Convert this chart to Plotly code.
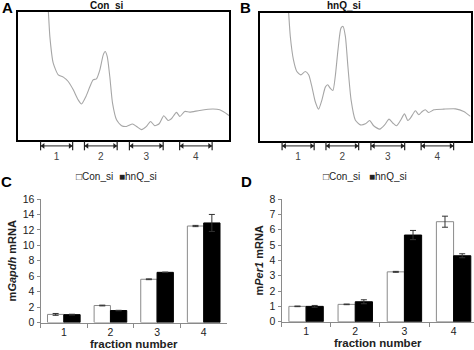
import plotly.graph_objects as go

W, H = 474, 350

# ---------------- data ----------------
# Sedimentation profiles (position along gradient 0-100, absorbance arbitrary 0-100)
prof_a_x = [14.2, 14.4, 15.1, 16.7, 19.1, 21.5, 23.8, 26.2, 28.5, 30.1, 32.2, 34.1, 35.6, 37.2, 38.8,
            40.4, 41.3, 42.3, 43.5, 44.8, 46.7, 49.1, 51.4, 54.3, 56.2, 58.5, 60.9, 62.8, 64.8,
            66.9, 69.1, 71.1, 72.7, 75.1, 76.7, 79.0, 81.4, 86.1, 92.4, 95.6, 99.5, 100]
prof_a_y = [104, 100, 80.8, 60.0, 50.9, 49.1, 45.7, 39.2, 31.4, 28.1, 34.0, 41.8, 47.0, 47.8, 54.8,
            66.5, 69.1, 65.2, 49.6, 28.8, 15.8, 11.2, 10.6, 12.5, 10.6, 8.1, 10.6, 14.5, 11.2,
            12.7, 19.0, 15.3, 16.6, 21.6, 18.4, 22.3, 21.8, 23.1, 24.2, 23.6, 19.7, 19.0]

prof_b_x = [13.6, 13.8, 14.6, 16.1, 17.7, 19.6, 21.7, 23.3, 24.8, 26.4, 28.0, 29.6, 31.2, 32.3, 33.5,
            34.8, 35.9, 37.2, 38.6, 39.6, 40.7, 41.9, 43.4, 45.4, 47.8, 50.2, 52.2, 54.1, 57.0,
            59.3, 61.4, 63.3, 64.9, 66.8, 68.7, 70.3, 71.5, 73.9, 75.5, 77.1, 78.6, 80.2, 82.6,
            87.3, 92.9, 96.8, 100]
prof_b_y = [104, 100, 81.3, 63.0, 53.9, 51.3, 53.9, 51.3, 42.2, 30.5, 24.5, 31.8, 41.7, 43.5, 40.9,
            39.1, 50.0, 70.8, 87.8, 89.1, 81.3, 57.8, 31.8, 16.1, 12.2, 13.0, 15.6, 11.5, 8.9,
            12.2, 16.7, 13.5, 11.5, 15.6, 20.8, 15.6, 17.4, 23.2, 20.1, 22.7, 24.0, 21.9, 24.0,
            24.5, 24.7, 22.7, 18.8]

# Collected fractions (start / end along the gradient)
frac_labels = ["1", "2", "3", "4"]
frac_start = [10.7, 31.5, 52.8, 76.6]
frac_end = [25.9, 47.0, 68.8, 92.0]

# qPCR per fraction
categories = ["1", "2", "3", "4"]
gapdh_con = [1.05, 2.2, 5.6, 12.5]
gapdh_con_err = [0.12, 0.05, 0.05, 0.08]
gapdh_hnq = [1.02, 1.55, 6.5, 12.9]
gapdh_hnq_err = [0.05, 0.03, 0.03, 1.1]

per1_con = [1.0, 1.13, 3.25, 6.52]
per1_con_err = [0.02, 0.02, 0.03, 0.36]
per1_hnq = [1.0, 1.3, 5.65, 4.3]
per1_hnq_err = [0.06, 0.13, 0.3, 0.13]

series_names = ["Con_si", "hnQ_si"]

# ---------------- helpers ----------------
def px(x):
    return x / W

def py(y):
    return 1 - y / H

FONT = "Liberation Sans, Arial, sans-serif"
CURVE = "#a6a6a6"
AXGREY = "#8a8a8a"

fig = go.Figure()

# profiles
for xa, ya, xs, ys in [("x", "y", prof_a_x, prof_a_y), ("x2", "y2", prof_b_x, prof_b_y)]:
    fig.add_trace(go.Scatter(x=xs, y=ys, mode="lines", xaxis=xa, yaxis=ya,
                             line=dict(color=CURVE, width=1.1, shape="spline", smoothing=0.6),
                             showlegend=False, hoverinfo="skip"))

# fraction markers under the profiles
for xa, ya in [("x", "y5"), ("x2", "y6")]:
    lx, lyy = [], []
    bx, byy = [], []
    for s, e in zip(frac_start, frac_end):
        lx += [s, e, None]
        lyy += [0.64, 0.64, None]
        bx += [s, s, None, e, e, None]
        byy += [0.84, 0.44, None, 0.84, 0.44, None]
    fig.add_trace(go.Scatter(x=lx, y=lyy, mode="lines", xaxis=xa, yaxis=ya,
                             line=dict(color="#222", width=1), showlegend=False, hoverinfo="skip"))
    fig.add_trace(go.Scatter(x=bx, y=byy, mode="lines", xaxis=xa, yaxis=ya,
                             line=dict(color="#222", width=1.2), showlegend=False, hoverinfo="skip"))
    fig.add_trace(go.Scatter(x=[s + 1.2 for s in frac_start], y=[0.64] * 4, mode="markers",
                             xaxis=xa, yaxis=ya, cliponaxis=False,
                             marker=dict(symbol="triangle-left", size=5, color="#222"),
                             showlegend=False, hoverinfo="skip"))
    fig.add_trace(go.Scatter(x=[e - 1.2 for e in frac_end], y=[0.64] * 4, mode="markers",
                             xaxis=xa, yaxis=ya, cliponaxis=False,
                             marker=dict(symbol="triangle-right", size=5, color="#222"),
                             showlegend=False, hoverinfo="skip"))
    fig.add_trace(go.Scatter(x=[(s + e) / 2 for s, e in zip(frac_start, frac_end)], y=[0.12] * 4,
                             mode="text", text=frac_labels, xaxis=xa, yaxis=ya, cliponaxis=False,
                             textfont=dict(family=FONT, size=10, color="#444"),
                             showlegend=False, hoverinfo="skip"))

# bars
for xa, ya, con, cerr, hnq, herr in [("x3", "y3", gapdh_con, gapdh_con_err, gapdh_hnq, gapdh_hnq_err),
                                    ("x4", "y4", per1_con, per1_con_err, per1_hnq, per1_hnq_err)]:
    fig.add_trace(go.Bar(x=categories, y=con, name=series_names[0], xaxis=xa, yaxis=ya,
                         marker=dict(color="white", line=dict(color="#8a8a8a", width=1)),
                         error_y=dict(type="data", array=cerr, color="#333", thickness=1, width=3),
                         showlegend=False))
    fig.add_trace(go.Bar(x=categories, y=hnq, name=series_names[1], xaxis=xa, yaxis=ya,
                         marker=dict(color="black", line=dict(color="black", width=1)),
                         error_y=dict(type="data", array=herr, color="#333", thickness=1, width=3),
                         showlegend=False))

box_axis = dict(showline=True, mirror=True, linecolor="black", linewidth=1.5,
                showticklabels=False, ticks="", showgrid=False, zeroline=False, fixedrange=True,
                automargin=False)

def bar_x(domain, rng):
    return dict(domain=domain, type="category", range=rng, showline=True, linecolor=AXGREY,
                linewidth=1, ticks="outside", tickson="boundaries", ticklen=4, tickcolor=AXGREY,
                showgrid=False, zeroline=False, automargin=False,
                tickfont=dict(family=FONT, size=10.5, color="#222"),
                title=dict(text="<b>fraction number</b>", font=dict(family=FONT, size=11.5, color="#222"),
                           standoff=2))

def bar_y(domain, rng, dtick, title):
    return dict(domain=domain, range=rng, dtick=dtick, showline=True, linecolor=AXGREY,
                linewidth=1, ticks="outside", ticklen=3, tickcolor=AXGREY, showgrid=False,
                zeroline=False, automargin=False, tickfont=dict(family=FONT, size=10.5, color="#222"),
                title=dict(text=title, font=dict(family=FONT, size=11, color="#222"), standoff=3))

fig.update_layout(
    width=W, height=H, margin=dict(l=0, r=0, t=0, b=0),
    paper_bgcolor="white", plot_bgcolor="rgba(0,0,0,0)",
    barmode="group", bargap=0.3, bargroupgap=0.0,
    showlegend=False,
    xaxis=dict(domain=[px(18), px(229)], range=[0, 100], anchor="y", **box_axis),
    yaxis=dict(domain=[py(140), py(12)], range=[0, 100], anchor="x", **box_axis),
    xaxis2=dict(domain=[px(259.5), px(470.5)], range=[0, 100], anchor="y2", **box_axis),
    yaxis2=dict(domain=[py(140.5), py(12.5)], range=[0, 100], anchor="x2", **box_axis),
    yaxis5=dict(domain=[py(160), py(138)], range=[0, 1], anchor="x", visible=False, fixedrange=True),
    yaxis6=dict(domain=[py(160), py(138)], range=[0, 1], anchor="x2", visible=False, fixedrange=True),
    xaxis3=dict(anchor="y3", **bar_x([px(40.5), px(227)], [-0.5, 3.5])),
    yaxis3=dict(anchor="x3", **bar_y([py(322.5), py(199)], [0, 16], 2, "<b>m<i>Gapdh</i> mRNA</b>")),
    xaxis4=dict(anchor="y4", **bar_x([px(281.5), 1.0], [-0.5, 3.415])),
    yaxis4=dict(anchor="x4", **bar_y([py(321.7), py(199)], [0, 8], 1, "<b>m<i>Per1</i> mRNA</b>")),
)

ann = []
for txt, x, y in [("A", 7, 7), ("B", 245, 7), ("C", 6, 181), ("D", 246, 181)]:
    ann.append(dict(text=f"<b>{txt}</b>", x=px(x), y=py(y), xref="paper", yref="paper",
                    showarrow=False, xanchor="center", yanchor="middle",
                    font=dict(family=FONT, size=15, color="black")))
for txt, x in [("Con_si", 107), ("hnQ_si", 344)]:
    ann.append(dict(text=f"<b>{txt}</b>", x=px(x), y=py(5.5), xref="paper", yref="paper",
                    showarrow=False, xanchor="center", yanchor="middle",
                    font=dict(family=FONT, size=10, color="#111")))
for txt, x in [("\u25a1Con_si", 74), ("\u25a0hnQ_si", 117), ("\u25a1Con_si", 321), ("\u25a0hnQ_si", 367)]:
    ann.append(dict(text=txt, x=px(x), y=py(177), xref="paper", yref="paper",
                    showarrow=False, xanchor="left", yanchor="middle",
                    font=dict(family=FONT, size=10, color="#222")))
fig.update_layout(annotations=ann)

fig.write_html("out.html")
